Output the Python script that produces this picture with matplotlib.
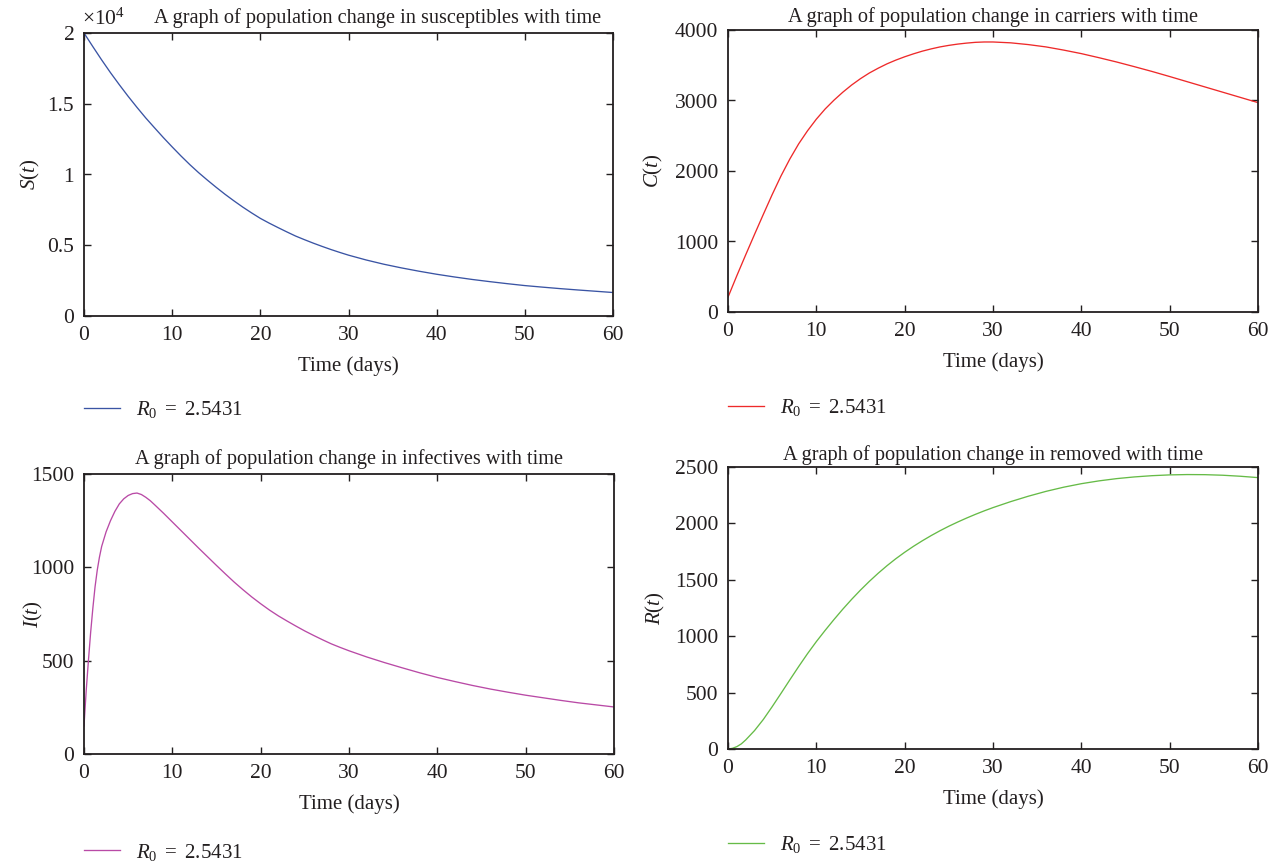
import matplotlib
matplotlib.use("Agg")
import matplotlib.pyplot as plt
from matplotlib.ticker import FuncFormatter, MultipleLocator

# ---------------- data ----------------
days = [0, 1, 2, 3, 4, 5, 6, 7, 8, 9, 10, 11, 12, 13, 14, 15, 16, 17, 18, 19,
        20, 21, 22, 23, 24, 25, 26, 27, 28, 29, 30, 32, 34, 36, 38, 40, 42, 44,
        46, 48, 50, 52, 54, 56, 58, 60]

susceptibles = [20000, 19040, 18100, 17200, 16350, 15530, 14750, 14000, 13300,
                12610, 11950, 11310, 10700, 10130, 9600, 9090, 8600, 8140, 7700,
                7290, 6900, 6565, 6250, 5945, 5650, 5395, 5150, 4920, 4700, 4495,
                4300, 3960, 3660, 3400, 3165, 2950, 2760, 2585, 2430, 2285, 2150,
                2040, 1935, 1840, 1750, 1660]

carriers = [210, 515, 810, 1100, 1385, 1665, 1930, 2170, 2385, 2570, 2735, 2880,
            3005, 3118, 3220, 3310, 3390, 3458, 3520, 3573, 3620, 3662, 3700,
            3732, 3760, 3782, 3800, 3814, 3825, 3830, 3830, 3818, 3793, 3760,
            3715, 3665, 3607, 3546, 3480, 3412, 3340, 3266, 3192, 3118, 3044,
            2970]

days_inf = [0, 0.25, 0.5, 0.75, 1, 1.25, 1.5, 1.75, 2, 2.5, 3, 3.5, 4, 4.5, 5,
            5.5, 6, 6.5, 7, 7.5, 8, 9, 10, 11, 12, 13, 14, 15, 16, 17, 18, 19,
            20, 21, 22, 23, 24, 25, 26, 27, 28, 29, 30, 32, 34, 36, 38, 40, 42,
            44, 46, 48, 50, 52, 54, 56, 58, 60]
infectives = [150, 340, 500, 650, 780, 895, 985, 1055, 1112, 1190, 1250, 1300,
              1340, 1367, 1385, 1395, 1398, 1390, 1375, 1357, 1335, 1290, 1243,
              1196, 1149, 1102, 1056, 1010, 965, 921, 880, 841, 805, 771, 740,
              712, 685, 659, 635, 612, 590, 571, 553, 520, 490, 462, 435, 410,
              388, 367, 348, 331, 315, 301, 287, 274, 263, 252]

days_rem = [0, 0.5, 1, 1.5, 2, 3, 4, 5, 6, 7, 8, 9, 10, 11, 12, 13, 14, 15, 16,
            17, 18, 19, 20, 21, 22, 23, 24, 25, 26, 27, 28, 29, 30, 32, 34, 36,
            38, 40, 42, 44, 46, 48, 50, 52, 54, 56, 58, 60]
removed = [0, 6, 21, 45, 80, 163, 262, 375, 493, 613, 731, 845, 952, 1052, 1148,
           1240, 1327, 1409, 1486, 1558, 1625, 1687, 1744, 1797, 1846, 1892,
           1935, 1975, 2012, 2047, 2080, 2111, 2140, 2193, 2241, 2284, 2321,
           2352, 2377, 2397, 2412, 2423, 2430, 2433, 2432, 2427, 2418, 2406]

titles = ["A graph of population change in susceptibles with time",
          "A graph of population change in carriers with time",
          "A graph of population change in infectives with time",
          "A graph of population change in removed with time"]
ylabels = [r"$S(t)$", r"$C(t)$", r"$I(t)$", r"$R(t)$"]
xlabel = "Time (days)"
legend_label = r"$R_0\ =\ 2.5431$"
colors = ["#3a54a4", "#ee2a2a", "#b94aa6", "#66bb47"]
ylims = [(0, 20000), (0, 4000), (0, 1500), (0, 2500)]
ysteps = [5000, 1000, 500, 500]

# ---------------- style ----------------
TXT = "#231f20"
plt.rcParams["font.family"] = ["Liberation Serif", "DejaVu Serif"]
plt.rcParams["mathtext.fontset"] = "custom"
plt.rcParams["mathtext.rm"] = "Liberation Serif"
plt.rcParams["mathtext.it"] = "Liberation Serif:italic"
plt.rcParams["font.size"] = 15
plt.rcParams["text.color"] = TXT

fig = plt.figure(figsize=(12.77, 8.63), dpi=100)

W, H = 1277, 863
boxes = [(84, 33, 613, 316), (728, 30, 1258, 312),
         (84, 474, 614, 754), (728, 467, 1258, 749)]
title_x = [0.554, 0.5, 0.5, 0.5]
title_pad = [7, 6, 7, 5]
ylab_x = [-0.079, -0.119, -0.074, -0.115]
leg_y = [-0.332, -0.340, -0.350, -0.340]

series = [(days, susceptibles), (days, carriers), (days_inf, infectives),
          (days_rem, removed)]

for i, (l, t, r, b) in enumerate(boxes):
    ax = fig.add_axes([l / W, 1 - b / H, (r - l) / W, (b - t) / H])
    x, y = series[i]
    ax.plot(x, y, color=colors[i], lw=0.95, label=legend_label)
    ax.set_xlim(0, 60)
    ax.set_ylim(*ylims[i])
    ax.xaxis.set_major_locator(MultipleLocator(10))
    ax.yaxis.set_major_locator(MultipleLocator(ysteps[i]))
    if i == 0:
        ax.yaxis.set_major_formatter(FuncFormatter(lambda v, p: f"{v / 1e4:g}"))
        ax.text(-0.004, 1.012, r"$\times 10^{4}$", transform=ax.transAxes,
                ha="left", va="bottom", fontsize=15.5, color=TXT)
    ax.tick_params(direction="in", length=5, width=1.0, top=True, right=True,
                   labelsize=15.5, pad=7, colors=TXT, labelcolor=TXT)
    for s in ax.spines.values():
        s.set_linewidth(1.3)
        s.set_color(TXT)
    ax.set_title(titles[i], x=title_x[i], pad=title_pad[i], fontsize=14.6,
                 color=TXT)
    ax.set_ylabel(ylabels[i], fontsize=15, color=TXT)
    ax.yaxis.set_label_coords(ylab_x[i], 0.5)
    ax.set_xlabel(xlabel, fontsize=15, color=TXT)
    ax.xaxis.set_label_coords(0.5, -0.143)
    ax.xaxis.label.set_verticalalignment("top")
    ax.legend(loc="center left", bbox_to_anchor=(0.0, leg_y[i]),
              frameon=False, borderpad=0, borderaxespad=0,
              handlelength=1.75, handletextpad=0.75, fontsize=15)

fig.savefig("out.png", dpi=100)
